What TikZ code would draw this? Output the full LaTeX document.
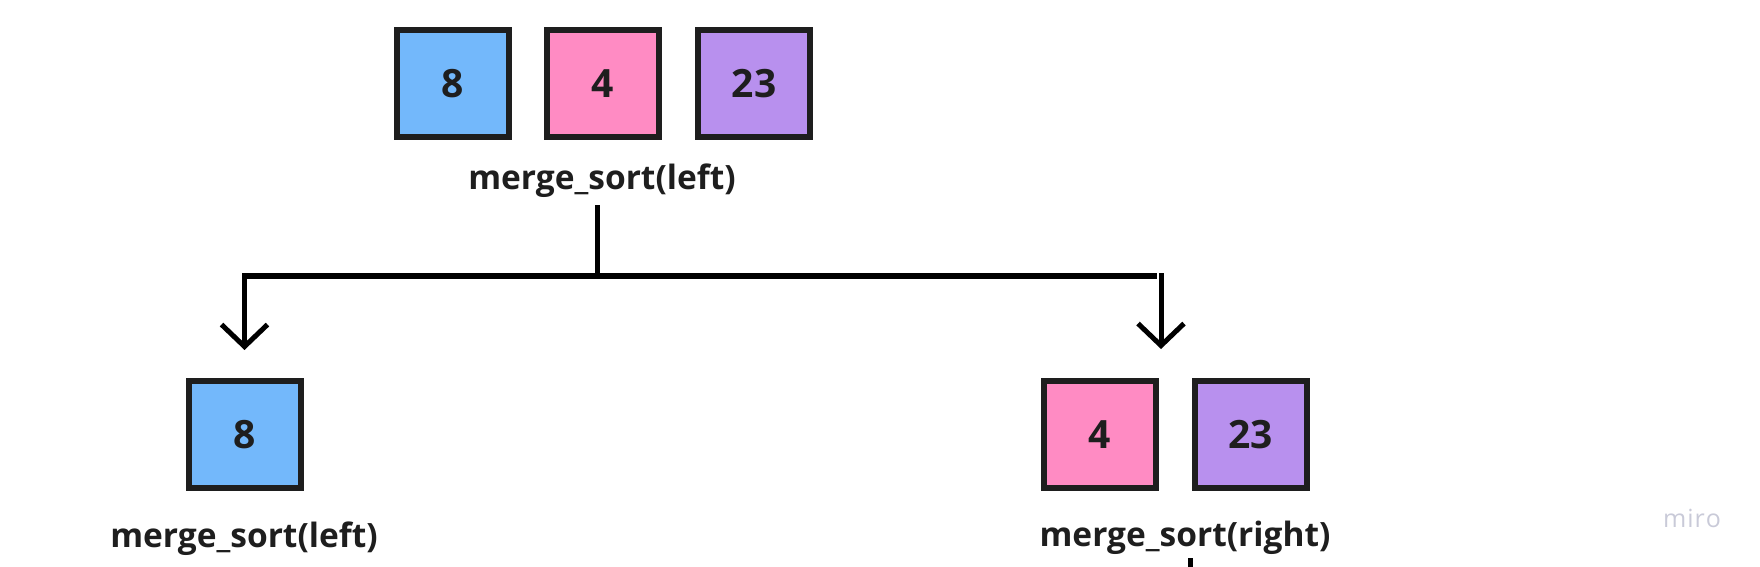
\documentclass[tikz,border=0pt]{standalone}
\usepackage{fontspec}
\setmainfont{Open Sans}
\usetikzlibrary{arrows.meta}
\definecolor{cblue}{HTML}{73B8FB}
\definecolor{cpink}{HTML}{FF8BC3}
\definecolor{cpurple}{HTML}{B890EE}
\definecolor{cborder}{HTML}{1E1E1E}
\definecolor{cmiro}{HTML}{C9CAD8}
\tikzset{
  cell/.style={draw=cborder, line width=6pt, minimum width=112pt, minimum height=107pt, inner sep=0pt,
    font=\fontsize{39}{45}\bfseries\selectfont, text=cborder},
  lbl/.style={font=\fontsize{33.5}{40}\bfseries\selectfont, text=cborder, inner sep=0pt},
  conn/.style={line width=5pt, black},
  arr/.style={conn, -{Straight Barb[length=22pt, width=46pt, line width=5pt]}}
}
\begin{document}
\begin{tikzpicture}[x=1pt,y=-1pt]
\useasboundingbox (0,0) rectangle (1760,567);
% top row
\node[cell, fill=cblue]   (t8)  at (452.5,83.5) {8};
\node[cell, fill=cpink]   (t4)  at (603,83.5) {4};
\node[cell, fill=cpurple] (t23) at (754,83.5) {23};
\node[lbl] (tlabel) at (602,181) {merge\_sort(left)};
% bottom left
\node[cell, fill=cblue] (b8) at (245,434.5) {8};
\node[lbl] (blabel) at (244,539) {merge\_sort(left)};
% bottom right
\node[cell, fill=cpink]   (b4)  at (1099.5,434.5) {4};
\node[cell, fill=cpurple] (b23) at (1250.5,434.5) {23};
\node[lbl] (rlabel) at (1185,538) {merge\_sort(right)};
% connectors
\coordinate (vtop) at (597,205);
\coordinate (vbot) at (597,273);
\coordinate (hl) at (242,276);
\coordinate (hr) at (1157,276);
\coordinate (al) at (244.5,274);
\coordinate (alt) at (244.5,350);
\coordinate (ar) at (1161,273);
\coordinate (art) at (1161,349);
\coordinate (stubtop) at (1190,558);
\coordinate (stubbot) at (1190,567);
\draw[conn] (vtop) -- (vbot);
\draw[conn, line width=6pt] (hl) -- (hr);
\draw[arr] (al) -- (alt);
\draw[arr] (ar) -- (art);
\draw[conn] (stubtop) -- (stubbot);
% watermark
\node[font=\fontsize{25}{30}\selectfont, text=cmiro, inner sep=0pt] (miro) at (1692,518) {m\kern1pt i\kern1pt r\kern1pt o};
\end{tikzpicture}
\end{document}
